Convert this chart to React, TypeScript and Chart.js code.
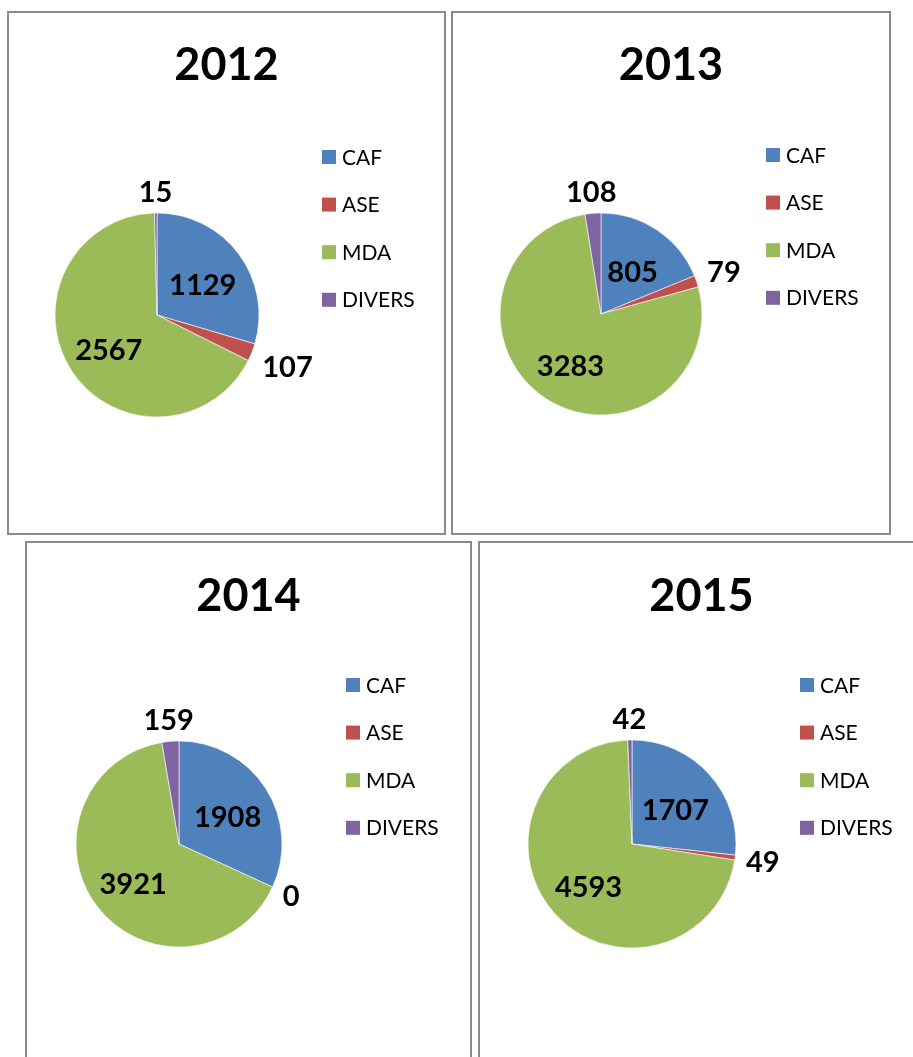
import React, { useEffect, useRef } from "react";
import { Chart, registerables } from "chart.js";

Chart.register(...registerables);

const categories = ["CAF", "ASE", "MDA", "DIVERS"];
const years = ["2012", "2013", "2014", "2015"];
const values2012 = [1129, 107, 2567, 15];
const values2013 = [805, 79, 3283, 108];
const values2014 = [1908, 0, 3921, 159];
const values2015 = [1707, 49, 4593, 42];
const sliceColors = ["#4F81BD", "#C0504D", "#9BBB59", "#8064A2"];

const FONT = "Lato, 'Open Sans', 'DejaVu Sans', sans-serif";

type PanelSpec = {
  title: string;
  values: number[];
  left: number;
  top: number;
  width: number;
  height: number;
  cx: number;
  cy: number;
  r: number;
  legendX: number;
  legendY: number;
  titleY: number;
};

const panels: PanelSpec[] = [
  { title: years[0], values: values2012, left: 7, top: 11, width: 439, height: 524, cx: 148, cy: 302, r: 102, legendX: 313, legendY: 144, titleY: 50 },
  { title: years[1], values: values2013, left: 451, top: 11, width: 440, height: 524, cx: 148, cy: 301, r: 101, legendX: 313, legendY: 142, titleY: 50 },
  { title: years[2], values: values2014, left: 25, top: 541, width: 447, height: 540, cx: 152, cy: 301, r: 103, legendX: 319, legendY: 142, titleY: 51 },
  { title: years[3], values: values2015, left: 478, top: 541, width: 447, height: 540, cx: 152, cy: 301, r: 104, legendX: 320, legendY: 142, titleY: 51 },
];

const overlayPlugin = {
  id: "overlay",
  afterDraw(chart: any, _args: any, opts: any) {
    const ctx: CanvasRenderingContext2D = chart.ctx;
    const meta = chart.getDatasetMeta(0);
    const ds = chart.data.datasets[0];
    const data: number[] = ds.data as number[];
    const total = data.reduce((a, b) => a + b, 0);
    ctx.save();
    ctx.fillStyle = "#000";
    // title
    ctx.font = `bold ${opts.titleSize}px ${FONT}`;
    ctx.textAlign = "center";
    ctx.textBaseline = "alphabetic";
    const tm = ctx.measureText(opts.title);
    ctx.fillText(opts.title, chart.width / 2, opts.titleY + tm.actualBoundingBoxAscent / 2);
    // legend
    ctx.font = `${opts.legendSize}px ${FONT}`;
    ctx.textAlign = "left";
    (chart.data.labels as string[]).forEach((lab, i) => {
      const y = opts.legendY + i * opts.legendGap;
      ctx.fillStyle = (ds.backgroundColor as string[])[i];
      ctx.fillRect(opts.legendX, y - 7, 14, 14);
      ctx.fillStyle = "#000";
      const m = ctx.measureText(lab);
      ctx.fillText(lab, opts.legendX + 20, y + m.actualBoundingBoxAscent / 2);
    });
    // data labels
    ctx.font = `bold ${opts.labelSize}px ${FONT}`;
    ctx.textAlign = "center";
    meta.data.forEach((arc: any, i: number) => {
      const p = arc.getProps(["x", "y", "startAngle", "endAngle", "outerRadius"], true);
      const mid = (p.startAngle + p.endAngle) / 2;
      const dx = Math.cos(mid);
      const dy = Math.sin(mid);
      const v = data[i];
      const text = String(v);
      const m = ctx.measureText(text);
      const w = m.width;
      const h = m.actualBoundingBoxAscent;
      let px: number;
      let py: number;
      if (total > 0 && v / total > 0.12) {
        px = p.x + dx * p.outerRadius * 0.56;
        py = p.y + dy * p.outerRadius * 0.56 + 4;
      } else {
        const rr = p.outerRadius + 9;
        const tx = Math.abs(dx) > 1e-6 ? (w / 2 + 2) / Math.abs(dx) : Infinity;
        const ty = Math.abs(dy) > 1e-6 ? (h / 2 + 2) / Math.abs(dy) : Infinity;
        const t = Math.min(tx, ty);
        px = p.x + dx * (rr + t);
        py = p.y + dy * (rr + t);
      }
      ctx.fillText(text, px, py + h / 2);
    });
    ctx.restore();
  },
};

function PiePanel({ spec }: { spec: PanelSpec }) {
  const ref = useRef<HTMLCanvasElement | null>(null);
  const cw = spec.width - 4;
  const ch = spec.height - 4;
  useEffect(() => {
    if (!ref.current) return;
    const padX = 2 * spec.cx > cw ? { left: 2 * spec.cx - cw, right: 0 } : { left: 0, right: cw - 2 * spec.cx };
    const padY = 2 * spec.cy > ch ? { top: 2 * spec.cy - ch, bottom: 0 } : { top: 0, bottom: ch - 2 * spec.cy };
    const chart = new Chart(ref.current, {
      type: "pie",
      data: {
        labels: categories,
        datasets: [
          {
            data: spec.values,
            backgroundColor: sliceColors,
            borderColor: "#ffffff",
            borderWidth: 0.6,
            radius: spec.r,
          } as any,
        ],
      },
      options: {
        responsive: false,
        animation: false,
        devicePixelRatio: 1,
        layout: { padding: { ...padX, ...padY } },
        plugins: {
          legend: { display: false },
          title: { display: false },
          tooltip: { enabled: false },
          overlay: {
            title: spec.title,
            titleY: spec.titleY,
            titleSize: 45,
            legendX: spec.legendX,
            legendY: spec.legendY,
            legendGap: 47.6,
            legendSize: 21,
            labelSize: 29,
          },
        } as any,
      },
      plugins: [overlayPlugin],
    });
    return () => chart.destroy();
  }, []);
  return (
    <div
      style={{
        position: "absolute",
        left: spec.left,
        top: spec.top,
        width: spec.width,
        height: spec.height,
        boxSizing: "border-box",
        border: "2px solid #8a8a8a",
        background: "#fff",
      }}
    >
      <canvas ref={ref} width={cw} height={ch} style={{ display: "block", width: cw, height: ch }} />
    </div>
  );
}

export default function App() {
  useEffect(() => {
    document.body.style.margin = "0";
  }, []);
  return (
    <div style={{ position: "relative", width: 913, height: 1057, overflow: "hidden", background: "#fff" }}>
      {panels.map((p) => (
        <PiePanel key={p.title} spec={p} />
      ))}
    </div>
  );
}
